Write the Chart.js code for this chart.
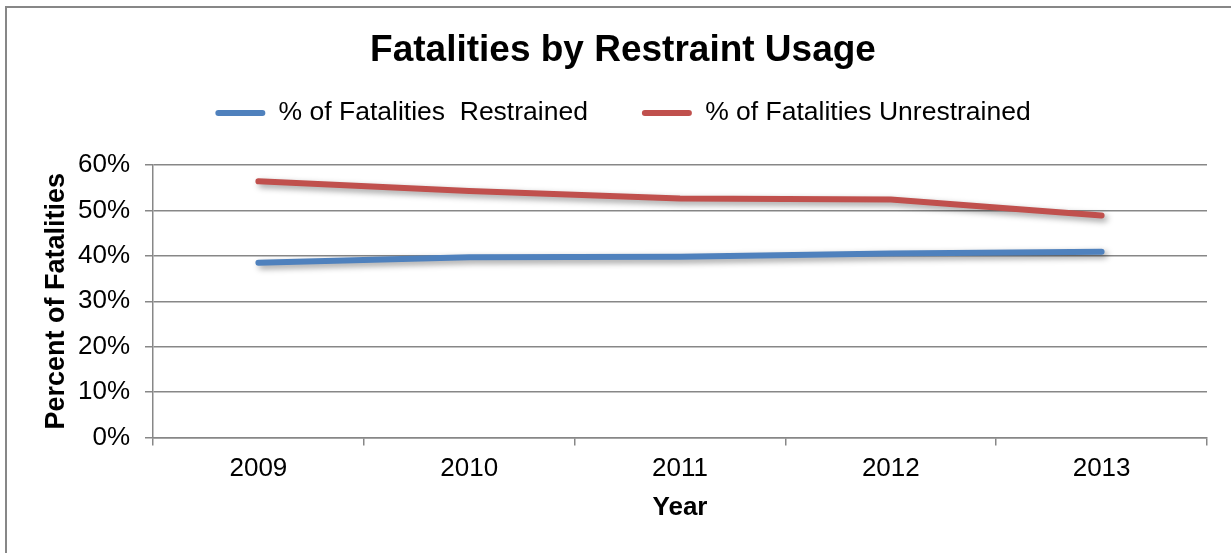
<!DOCTYPE html>
<html>
<head>
<meta charset="utf-8">
<title>Fatalities by Restraint Usage</title>
<script src="https://cdn.jsdelivr.net/npm/chart.js@4/dist/chart.umd.min.js"></script>
<style>
  html, body { margin: 0; padding: 0; background: #fff; overflow: hidden; }
  #frame { position: absolute; left: 0; top: 0; width: 1231px; height: 553px; overflow: hidden; }
  #edge { position: absolute; left: 4.5px; top: 6px; width: 1400px; height: 700px;
          border-top: 2px solid #878787; border-left: 2px solid #878787; }
  canvas { position: absolute; left: 0; top: 0; }
</style>
</head>
<body>
<div id="frame">
  <div id="edge"></div>
  <canvas id="chart" width="1231" height="553"></canvas>
</div>
<script>
// Chart data
const years = ['2009', '2010', '2011', '2012', '2013'];
const restrained = [38.5, 39.7, 39.8, 40.5, 40.9];
const unrestrained = [56.4, 54.3, 52.6, 52.4, 48.9];
const yTicks = [0, 10, 20, 30, 40, 50, 60];

const FONT = "'Liberation Sans', Arial, Helvetica, sans-serif";
const GRID = '#878787';
const BLUE = '#4F81BD';
const RED = '#C0504D';

// Extra room between the legend row and the plot area
const legendGap = {
  id: 'legendGap',
  beforeInit(chart) {
    const fit = chart.legend.fit;
    chart.legend.fit = function () {
      fit.call(this);
      this.height += 28.75;
    };
  }
};

// Soft drop shadow under the series lines
const lineShadow = {
  id: 'lineShadow',
  beforeDatasetsDraw(chart) {
    const ctx = chart.ctx;
    ctx.save();
    ctx.shadowColor = 'rgba(0,0,0,0.4)';
    ctx.shadowBlur = 6;
    ctx.shadowOffsetX = 3;
    ctx.shadowOffsetY = 3;
  },
  afterDatasetsDraw(chart) {
    chart.ctx.restore();
  }
};

const seriesStyle = (color) => ({
  borderColor: color,
  backgroundColor: color,
  borderWidth: 6,
  pointRadius: 0,
  pointHoverRadius: 0,
  borderCapStyle: 'round',
  borderJoinStyle: 'round',
  tension: 0,
  fill: false
});

new Chart(document.getElementById('chart'), {
  type: 'line',
  data: {
    labels: years,
    datasets: [
      Object.assign({ label: '% of Fatalities  Restrained', data: restrained }, seriesStyle(BLUE)),
      Object.assign({ label: '% of Fatalities Unrestrained', data: unrestrained }, seriesStyle(RED))
    ]
  },
  options: {
    responsive: false,
    animation: false,
    devicePixelRatio: 1,
    layout: { padding: { left: 39, right: 24, top: 0, bottom: 0 } },
    plugins: {
      title: {
        display: true,
        text: 'Fatalities by Restraint Usage',
        color: '#000',
        font: { family: FONT, size: 37, weight: 'bold' },
        padding: { top: 29, bottom: -27.65 }
      },
      legend: {
        position: 'top',
        labels: {
          font: { family: FONT, size: 26.5 },
          color: '#000',
          boxWidth: 50,
          boxHeight: 6,
          padding: 54,
          useBorderRadius: true,
          borderRadius: 3,
          generateLabels(chart) {
            return Chart.defaults.plugins.legend.labels.generateLabels(chart)
              .map(item => Object.assign(item, { lineWidth: 0 }));
          }
        }
      },
      tooltip: { enabled: false }
    },
    scales: {
      x: {
        type: 'category',
        offset: true,
        grid: { offset: true, drawOnChartArea: false, drawTicks: true, tickLength: 8, color: GRID, lineWidth: 1.5 },
        border: { color: GRID, width: 1.5 },
        ticks: { font: { family: FONT, size: 26 }, color: '#000', padding: 7.9, maxRotation: 0 },
        title: {
          display: true, text: 'Year', color: '#000',
          font: { family: FONT, size: 26, weight: 'bold' },
          padding: { top: 0, bottom: 29.4 }
        },
        afterFit(scale) { scale.height = 115.5; }
      },
      y: {
        min: 0,
        max: 60,
        afterBuildTicks(scale) { scale.ticks = yTicks.map(v => ({ value: v })); },
        grid: { color: GRID, lineWidth: 1.5, tickLength: 8 },
        border: { color: GRID, width: 1.5 },
        ticks: { font: { family: FONT, size: 26 }, color: '#000', padding: 15, callback: v => v + '%' },
        title: {
          display: true, text: 'Percent of Fatalities', color: '#000',
          font: { family: FONT, size: 27, weight: 'bold' },
          padding: { top: 1.8, bottom: 0 }
        },
        afterFit(scale) { scale.width = 114; }
      }
    }
  },
  plugins: [legendGap, lineShadow]
});
</script>
</body>
</html>
